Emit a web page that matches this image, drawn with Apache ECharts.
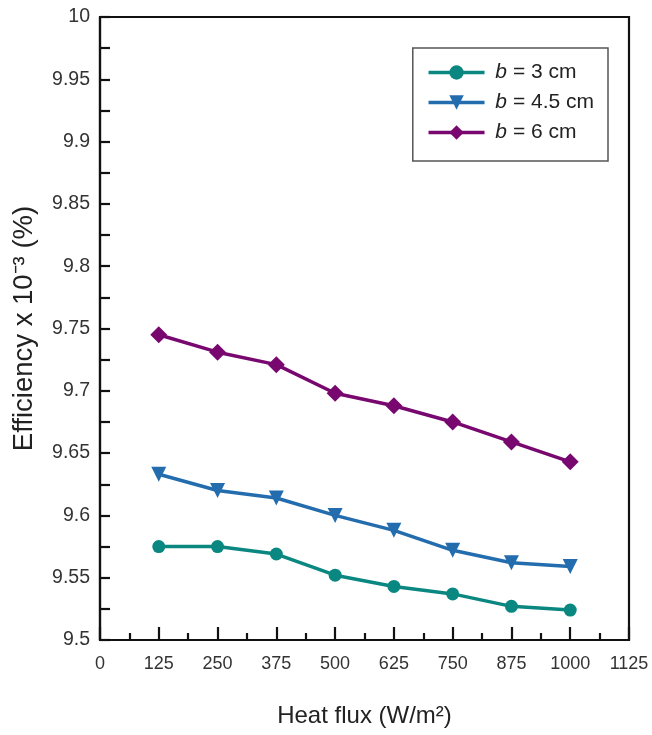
<!DOCTYPE html>
<html><head><meta charset="utf-8">
<script src="https://cdn.jsdelivr.net/npm/echarts@6/dist/echarts.min.js"></script>
<style>html,body{margin:0;padding:0;background:#fff}#c{width:652px;height:735px}</style>
</head><body><div id="c"></div>
<script>
const heatFlux = [125, 250, 375, 500, 625, 750, 875, 1000];
const b3 = [9.575, 9.575, 9.569, 9.552, 9.543, 9.537, 9.527, 9.524];
const b45 = [9.633, 9.620, 9.614, 9.600, 9.588, 9.572, 9.562, 9.559];
const b6 = [9.745, 9.731, 9.721, 9.698, 9.688, 9.675, 9.659, 9.643];
const seriesNames = ['b = 3 cm', 'b = 4.5 cm', 'b = 6 cm'];
const xTicks = [0, 125, 250, 375, 500, 625, 750, 875, 1000, 1125];
const yTicks = [9.5, 9.55, 9.6, 9.65, 9.7, 9.75, 9.8, 9.85, 9.9, 9.95, 10];

const chart = echarts.init(document.getElementById('c'));
const font = 'Liberation Sans, Arial, sans-serif';
function pairs(v){ return heatFlux.map((x,i)=>[x,v[i]]); }
const lineSt = {color:'#111', width:2.2};
chart.setOption({
  animation:false,
  backgroundColor:'#fff',
  grid:{left:100, right:23, top:17, bottom:95, show:true, borderColor:'#111', borderWidth:2.2},
  legend:{
    orient:'vertical', right:44, top:48,
    data:seriesNames,
    borderColor:'#555', borderWidth:1.5, padding:[14,14,18,14], itemGap:9,
    itemWidth:56, itemHeight:18,
    lineStyle:{width:3.5},
    textStyle:{fontSize:21, fontFamily:font, color:'#222',
      rich:{i:{fontStyle:'italic', fontSize:21, fontFamily:font}}},
    formatter: n => ' {i|b}' + n.slice(1)
  },
  xAxis:{
    type:'value', min:0, max:1125, interval:125,
    name:'Heat flux (W/m²)', nameLocation:'middle', nameGap:64,
    nameTextStyle:{fontSize:24, fontFamily:font, color:'#222'},
    axisLine:{show:true, lineStyle:lineSt},
    axisTick:{show:true, inside:true, length:13, lineStyle:lineSt},
    minorTick:{show:true, splitNumber:2, length:7, lineStyle:lineSt},
    splitLine:{show:false},
    axisLabel:{color:'#333', fontSize:18, fontFamily:font, margin:15,
      formatter: v => xTicks.includes(v) ? String(v) : ''}
  },
  yAxis:{
    type:'value', min:9.5, max:10, interval:0.05,
    name:'Efficiency x 10⁻³ (%)', nameLocation:'middle', nameGap:62,
    nameTextStyle:{fontSize:27.5, fontFamily:font, color:'#222'},
    axisLine:{show:true, lineStyle:lineSt},
    axisTick:{show:true, inside:true, length:10, lineStyle:lineSt},
    minorTick:{show:true, splitNumber:2, length:10, lineStyle:lineSt},
    splitLine:{show:false},
    axisLabel:{color:'#333', fontSize:19.5, fontFamily:font, margin:10,
      formatter: v => { const t = yTicks.find(t=>Math.abs(t-v)<1e-6); return t===undefined ? '' : String(t); }}
  },
  series:[
    {name:seriesNames[0], type:'line', data:pairs(b3), symbol:'circle', symbolSize:13,
      lineStyle:{color:'#0b8781', width:3.5}, itemStyle:{color:'#0b8781'}},
    {name:seriesNames[1], type:'line', data:pairs(b45), symbol:'triangle', symbolRotate:180, symbolSize:15,
      lineStyle:{color:'#236dae', width:3.5}, itemStyle:{color:'#236dae'}},
    {name:seriesNames[2], type:'line', data:pairs(b6), symbol:'diamond', symbolSize:17,
      lineStyle:{color:'#780870', width:3.5}, itemStyle:{color:'#780870'}}
  ]
});
</script></body></html>
